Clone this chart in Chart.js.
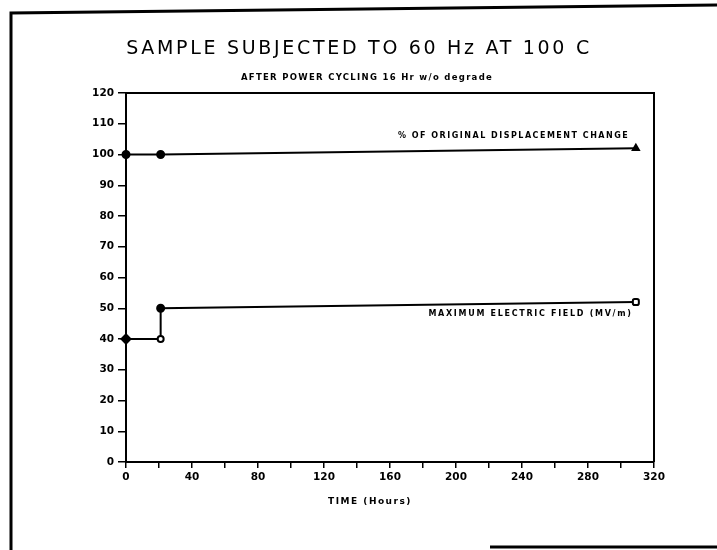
<!DOCTYPE html>
<html>
<head>
<meta charset="utf-8">
<script src="https://cdn.jsdelivr.net/npm/chart.js@4.4.0/dist/chart.umd.min.js"></script>
<style>
  body { margin: 0; background: #fff; }
  #wrap { width: 717px; height: 550px; }
</style>
</head>
<body>
<div id="wrap"><canvas id="chart" width="717" height="550"></canvas></div>
<script>
// Chart values
const dispHours = [0, 21, 309];
const dispChange = [100, 100, 102];
const fieldHours = [0, 21, 21, 309];
const fieldValues = [40, 40, 50, 52];
const xTickLabels = [0, 40, 80, 120, 160, 200, 240, 280, 320];

const titleText = "SAMPLE SUBJECTED TO 60 Hz AT 100 C";
const subtitleText = "AFTER POWER CYCLING 16 Hr w/o degrade";
const xTitleText = "TIME (Hours)";
const dispLabel = "% OF ORIGINAL DISPLACEMENT CHANGE";
const fieldLabel = "MAXIMUM ELECTRIC FIELD (MV/m)";

const tickFont = { family: "DejaVu Sans", size: 10.5, weight: "bold" };

// Frame, box and free text
const decorations = {
  id: "decorations",
  afterDraw(chart) {
    const { ctx, chartArea: a, scales } = chart;
    ctx.save();
    ctx.strokeStyle = "#000";
    ctx.fillStyle = "#000";

    // outer frame (scanned page edge)
    ctx.lineWidth = 3;
    ctx.beginPath();
    ctx.moveTo(11, 550);
    ctx.lineTo(11, 13);
    ctx.lineTo(717, 5);
    ctx.stroke();
    ctx.beginPath();
    ctx.moveTo(490, 547);
    ctx.lineTo(717, 547);
    ctx.stroke();

    // top and right sides of the plot box
    ctx.lineWidth = 2;
    ctx.beginPath();
    ctx.moveTo(a.left, a.top);
    ctx.lineTo(a.right, a.top);
    ctx.lineTo(a.right, a.bottom);
    ctx.stroke();

    // title + subtitle
    ctx.textAlign = "center";
    ctx.textBaseline = "middle";
    ctx.font = "19px 'DejaVu Sans'";
    ctx.letterSpacing = "2.7px";
    ctx.fillText(titleText, 359, 49);
    ctx.font = "bold 8.5px 'DejaVu Sans'";
    ctx.letterSpacing = "1.3px";
    ctx.fillText(subtitleText, 367, 78);

    // x axis title
    ctx.font = "bold 9px 'DejaVu Sans'";
    ctx.letterSpacing = "1.5px";
    ctx.fillText(xTitleText, 370, 502);

    // series labels
    const x = scales.x, y = scales.y;
    ctx.textAlign = "right";
    ctx.font = "bold 8px 'DejaVu Sans'";
    ctx.letterSpacing = "1.5px";
    ctx.fillText(dispLabel, x.getPixelForValue(305), y.getPixelForValue(106));
    ctx.letterSpacing = "1.7px";
    ctx.fillText(fieldLabel, x.getPixelForValue(307), y.getPixelForValue(48));
    ctx.restore();
  }
};

new Chart(document.getElementById("chart"), {
  type: "line",
  data: {
    datasets: [
      {
        label: dispLabel,
        data: dispHours.map((h, i) => ({ x: h, y: dispChange[i] })),
        borderColor: "#000",
        borderWidth: 2,
        pointStyle: ["circle", "circle", "triangle"],
        pointBackgroundColor: "#000",
        pointBorderColor: "#000",
        pointRadius: [3.5, 3.5, 3.5],
        clip: false
      },
      {
        label: fieldLabel,
        data: fieldHours.map((h, i) => ({ x: h, y: fieldValues[i] })),
        borderColor: "#000",
        borderWidth: 2,
        pointStyle: ["rectRot", "circle", "circle", "rectRounded"],
        pointBackgroundColor: ["#000", "#fff", "#000", "#fff"],
        pointBorderColor: "#000",
        pointBorderWidth: 2,
        pointRadius: [4.5, 3, 3.5, 3.5],
        clip: false
      }
    ]
  },
  options: {
    responsive: false,
    animation: false,
    layout: { padding: { left: 86, right: 63, top: 93, bottom: 48 } },
    plugins: {
      legend: { display: false },
      tooltip: { enabled: false }
    },
    scales: {
      x: {
        type: "linear",
        min: 0,
        max: 320,
        afterFit: s => { s.height = 40; },
        border: { display: true, color: "#000", width: 2 },
        grid: { drawOnChartArea: false, drawTicks: true, tickLength: 6, color: "#000", lineWidth: 1.5 },
        ticks: {
          stepSize: 20,
          color: "#000",
          font: tickFont,
          padding: 3,
          maxRotation: 0,
          autoSkip: false,
          callback: v => xTickLabels.includes(v) ? String(v) : ""
        }
      },
      y: {
        min: 0,
        max: 120,
        afterFit: s => { s.width = 40; },
        border: { display: true, color: "#000", width: 2 },
        grid: { drawOnChartArea: false, drawTicks: true, tickLength: 8, color: "#000", lineWidth: 1.5 },
        ticks: { stepSize: 10, color: "#000", font: tickFont, padding: 4 }
      }
    }
  },
  plugins: [decorations]
});
</script>
</body>
</html>
